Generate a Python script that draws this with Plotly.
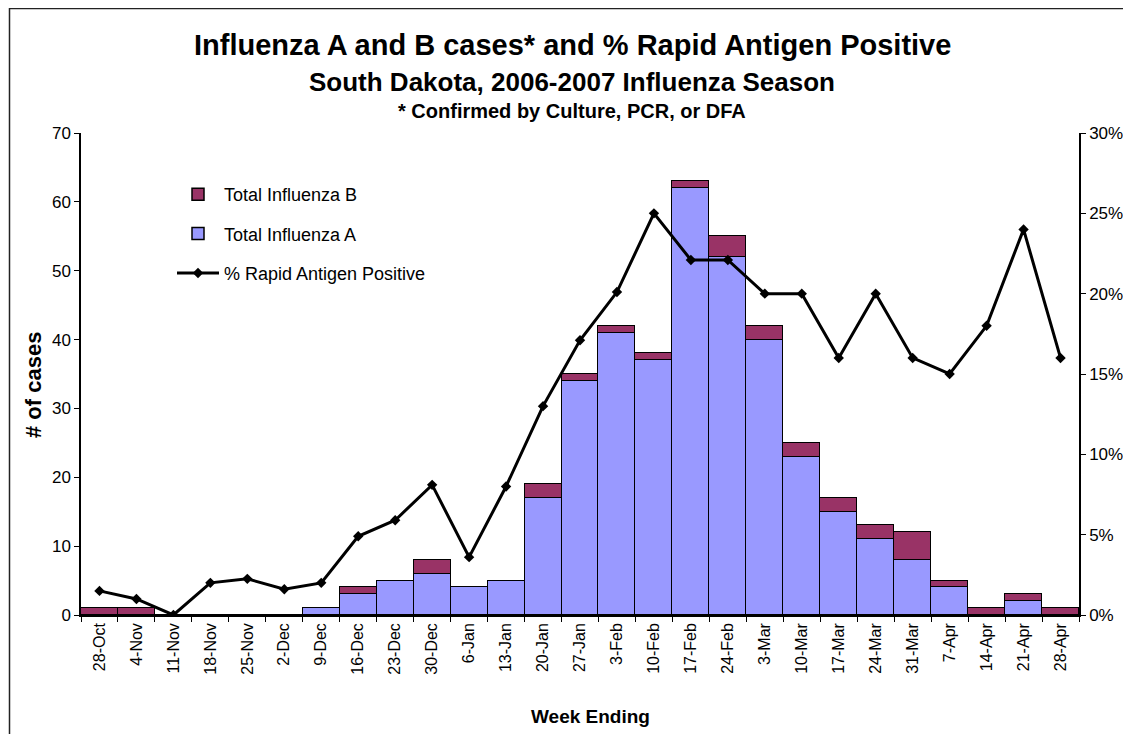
import plotly.graph_objects as go

weeks = ["28-Oct", "4-Nov", "11-Nov", "18-Nov", "25-Nov", "2-Dec", "9-Dec", "16-Dec",
         "23-Dec", "30-Dec", "6-Jan", "13-Jan", "20-Jan", "27-Jan", "3-Feb", "10-Feb",
         "17-Feb", "24-Feb", "3-Mar", "10-Mar", "17-Mar", "24-Mar", "31-Mar", "7-Apr",
         "14-Apr", "21-Apr", "28-Apr"]
flu_a = [0, 0, 0, 0, 0, 0, 1, 3, 5, 6, 4, 5, 17, 34, 41, 37, 62, 52, 40, 23, 15, 11, 8, 4, 0, 2, 0]
flu_b = [1, 1, 0, 0, 0, 0, 0, 1, 0, 2, 0, 0, 2, 1, 1, 1, 1, 3, 2, 2, 2, 2, 4, 1, 1, 1, 1]
rapid_pct = [1.5, 1.0, 0, 2.0, 2.25, 1.6, 2.0, 4.9, 5.9, 8.1, 3.6, 8.0, 13.0, 17.1, 20.1, 25.0,
             22.1, 22.1, 20.0, 20.0, 16.0, 20.0, 16.0, 15.0, 18.0, 24.0, 16.0]

FONT = "Liberation Sans, Arial, sans-serif"

fig = go.Figure()
fig.add_trace(go.Bar(x=weeks, y=flu_a, name="Total Influenza A",
                     marker=dict(color="#9999FF", line=dict(color="black", width=1.5)),
                     legendrank=2, legendgroup="a"))
fig.add_trace(go.Bar(x=weeks, y=flu_b, name="Total Influenza B",
                     marker=dict(color="#993366", line=dict(color="black", width=1.5)),
                     legendrank=1, legendgroup="b"))
fig.add_trace(go.Scatter(x=weeks, y=rapid_pct, name="% Rapid Antigen Positive", yaxis="y2",
                         mode="lines+markers",
                         line=dict(color="black", width=3),
                         marker=dict(symbol="diamond", size=8, color="black"),
                         legendrank=3, legendgroup="c"))

# page body has an 8px margin; figure sized to fit the window
OFF = 8
W, H = 1123, 726
L, T = 81 - OFF, 133 - OFF
pw, ph = 998, 482
R = W - L - pw
B = H - T - ph

def px(x):
    return (x - OFF - L) / pw

def py(y):
    return (H - B - (y - OFF)) / ph

fig.update_layout(
    width=W, height=H,
    margin=dict(l=L, r=R, t=T, b=B, autoexpand=False),
    paper_bgcolor="white", plot_bgcolor="white",
    barmode="stack", bargap=0,
    font=dict(family=FONT, color="black", size=16),
    showlegend=True,
    legend=dict(x=px(172), y=py(176), xanchor="left", yanchor="top",
                bgcolor="rgba(0,0,0,0)", font=dict(size=18), tracegroupgap=13,
                traceorder="grouped", itemwidth=42),
    xaxis=dict(type="category", range=[-0.5, 26.5], showline=True, linecolor="black",
               linewidth=1.5, ticks="outside", tickson="boundaries", ticklen=5,
               tickcolor="black", tickangle=-90, tickfont=dict(size=16),
               showgrid=False, zeroline=False),
    yaxis=dict(range=[0, 70], dtick=10, showline=True, linecolor="black", linewidth=1.5,
               ticks="outside", ticklen=5, tickcolor="black", showgrid=False,
               zeroline=False, tickfont=dict(size=17)),
    yaxis2=dict(range=[0, 30], dtick=5, overlaying="y", side="right", showline=True,
                linecolor="black", linewidth=1.5, ticks="outside", ticklen=5,
                tickcolor="black", showgrid=False, zeroline=False, ticksuffix="%",
                tickfont=dict(size=17)),
    shapes=[dict(type="rect", xref="paper", yref="paper",
                 x0=px(9.5), x1=px(1300), y0=py(900), y1=py(8.5),
                 line=dict(color="#222222", width=1.5), fillcolor="rgba(0,0,0,0)",
                 layer="below")],
    annotations=[
        dict(text="<b>Influenza A and B cases* and % Rapid Antigen Positive</b>",
             xref="paper", yref="paper", x=px(572), y=py(45), showarrow=False,
             font=dict(size=29), xanchor="center", yanchor="middle"),
        dict(text="<b>South Dakota, 2006-2007 Influenza Season</b>",
             xref="paper", yref="paper", x=px(572), y=py(82), showarrow=False,
             font=dict(size=26), xanchor="center", yanchor="middle"),
        dict(text="<b>* Confirmed by Culture, PCR, or DFA</b>",
             xref="paper", yref="paper", x=px(572), y=py(111), showarrow=False,
             font=dict(size=20), xanchor="center", yanchor="middle"),
        dict(text="<b># of cases</b>", textangle=-90,
             xref="paper", yref="paper", x=px(33), y=py(385), showarrow=False,
             font=dict(size=22), xanchor="center", yanchor="middle"),
        dict(text="<b>Week Ending</b>",
             xref="paper", yref="paper", x=px(590), y=py(716), showarrow=False,
             font=dict(size=19), xanchor="center", yanchor="middle"),
    ],
)

fig.write_html("out.html")
